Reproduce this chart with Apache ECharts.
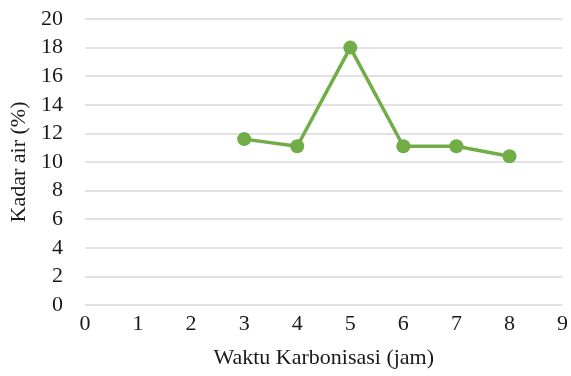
<!DOCTYPE html>
<html><head><meta charset="utf-8">
<script src="https://cdn.jsdelivr.net/npm/echarts@6/dist/echarts.min.js"></script>
<style>html,body{margin:0;padding:0;background:#fff}#c{width:571px;height:376px}</style>
</head><body><div id="c"></div>
<script>
const xValues = [3, 4, 5, 6, 7, 8];
const kadarAir = [11.6, 11.1, 18.0, 11.1, 11.1, 10.4];
const xTicks = [0, 9, 1];
const yTicks = [0, 20, 2];

const chart = echarts.init(document.getElementById('c'));
const font = '"Liberation Serif", "Times New Roman", serif';
chart.setOption({
  animation: false,
  grid: {left: 85, right: 5, top: 19, bottom: 71},
  xAxis: {
    type: 'value', min: xTicks[0], max: xTicks[1], interval: xTicks[2],
    name: 'Waktu Karbonisasi (jam)', nameLocation: 'middle', nameGap: 42,
    nameTextStyle: {fontFamily: font, fontSize: 22, color: '#1a1a1a'},
    axisLine: {show: false}, axisTick: {show: false}, splitLine: {show: false},
    axisLabel: {fontFamily: font, fontSize: 22, color: '#1a1a1a', margin: 8}
  },
  yAxis: {
    type: 'value', min: yTicks[0], max: yTicks[1], interval: yTicks[2],
    name: 'Kadar air (%)', nameLocation: 'middle', nameGap: 52,
    nameTextStyle: {fontFamily: font, fontSize: 22, color: '#1a1a1a'},
    axisLine: {show: false}, axisTick: {show: false},
    splitLine: {lineStyle: {color: '#d9d9d9', width: 1.5}},
    axisLabel: {fontFamily: font, fontSize: 22, color: '#1a1a1a', margin: 22}
  },
  series: [{
    type: 'line',
    data: xValues.map((x, i) => [x, kadarAir[i]]),
    symbol: 'circle', symbolSize: 14,
    lineStyle: {color: '#70ad47', width: 3.5},
    itemStyle: {color: '#70ad47'}
  }]
});
</script></body></html>
